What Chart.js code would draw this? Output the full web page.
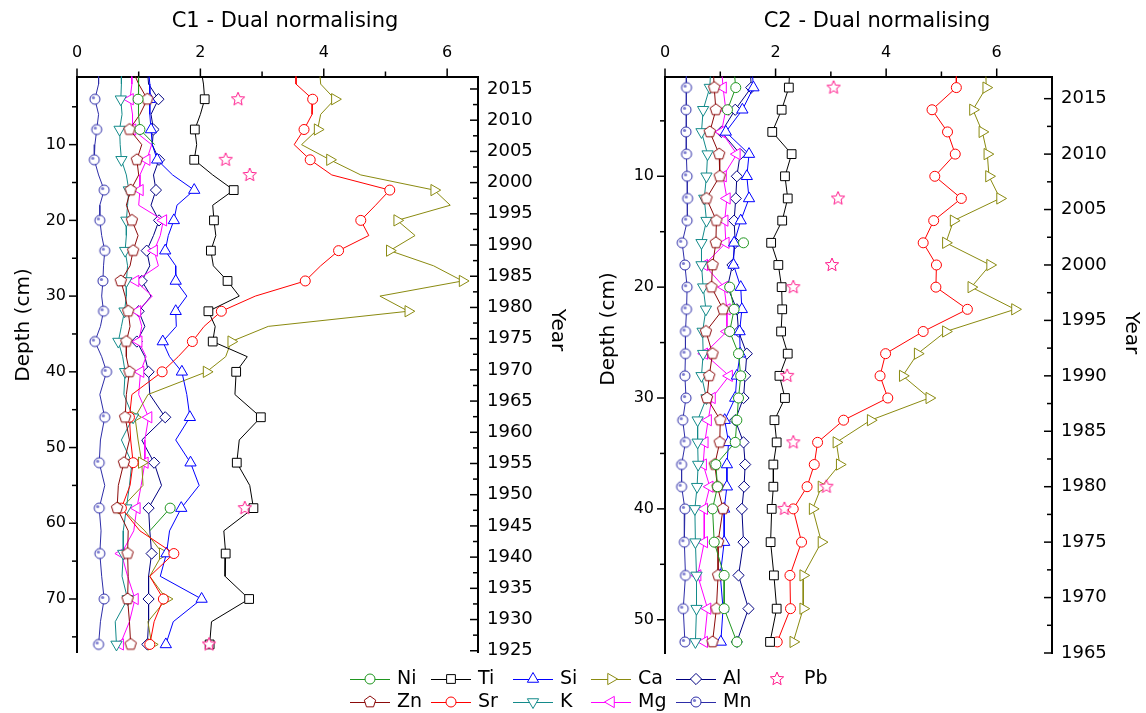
<!DOCTYPE html>
<html>
<head>
<meta charset="utf-8">
<title>C1 / C2 - Dual normalising</title>
<script src="https://cdn.jsdelivr.net/npm/chart.js@4.4.0/dist/chart.umd.min.js"></script>
<style>
  html, body { margin: 0; padding: 0; background: #ffffff; }
  #page { position: relative; width: 1146px; height: 713px; overflow: hidden; }
  #page canvas { position: absolute; left: 0; top: 0; }
</style>
</head>
<body>
<div id="page">
  <canvas id="core1" width="1146" height="713"></canvas>
  <canvas id="core2" width="1146" height="713"></canvas>
</div>
<script>
// values (x = normalised value, depth in cm)
const valueTicks = [0, 2, 4, 6];

// C1: samples every 2 cm to 40 cm, then every 3 cm; symbols on every other sample
const c1Depth = [0, 2, 4, 6, 8, 10, 12, 14, 16, 18, 20, 22, 24, 26, 28, 30, 32, 34, 36, 38, 40,
                 43, 46, 49, 52, 55, 58, 61, 64, 67, 70, 73, 76];
const c1Ni = [1.0, 1.0, 0.99, 1.0, 1.02, 1.26, null, null, null, null, null, null, null, null, null, null,
              null, null, null, null, null, null, null, null, null, null, 1.51, 1.18, null, null, null, null, null];
const c1Zn = [0.89, 1.0, 1.14, 1.02, 0.85, 1.05, 0.97, 1.0, 0.87, 0.8, 0.89, 0.99, 0.91, 0.86, 0.71, 0.78, 0.83,
              0.86, 0.8, 0.8, 0.85, 0.8, 0.78, 0.85, 0.76, 0.67, 0.65, 0.83, 0.82, 0.83, 0.82, 0.85, 0.87];
const c1Ti = [2.01, 2.05, 2.07, 2.0, 1.91, 1.94, 1.9, 2.2, 2.54, 2.2, 2.22, 2.25, 2.17, 2.21, 2.44, 2.63, 2.13,
              2.24, 2.2, 2.76, 2.58, 2.56, 2.98, 2.63, 2.59, 2.8, 2.86, 2.38, 2.41, 2.4, 2.79, 2.18, 2.15];
const c1Sr = [3.55, 3.55, 3.82, 3.81, 3.68, 3.52, 3.78, 4.13, 5.07, 4.84, 4.6, 4.73, 4.24, 3.95, 3.7, 2.89, 2.34,
              2.06, 1.87, 1.64, 1.38, 0.89, 0.85, 0.87, 0.91, 0.86, 0.72, 1.02, 1.57, 1.18, 1.4, 1.25, 1.18];
const c1Si = [1.16, 1.18, 1.18, 1.18, 1.2, 1.22, 1.3, 1.55, 1.9, 1.62, 1.57, 1.48, 1.43, 1.6, 1.6, 1.78, 1.6,
              1.61, 1.39, 1.5, 1.7, 1.78, 1.83, 1.6, 1.84, 1.98, 1.69, 1.5, 1.45, 1.35, 2.02, 1.56, 1.44];
const c1K  = [0.72, 0.72, 0.71, 0.73, 0.69, 0.7, 0.72, 0.8, 0.84, 0.82, 0.8, 0.8, 0.78, 0.82, 0.8, 0.8, 0.77,
              0.72, 0.67, 0.74, 0.78, 0.76, 0.91, 0.72, 0.89, 0.85, 0.8, 0.75, 0.75, 0.73, 0.82, 0.62, 0.64];
const c1Ca = [3.93, 3.95, 4.18, 3.95, 3.9, 3.64, 4.1, 4.6, 5.79, 6.05, 5.19, 5.48, 5.07, 5.78, 6.25, 4.91, 5.37,
              3.1, 2.5, 2.41, 2.1, 1.15, 0.94, 0.99, 1.05, 1.07, 0.72, 1.1, 1.39, 1.18, 1.45, 1.15, 1.21];
const c1Mg = [0.88, 0.89, 0.86, 0.9, 0.9, 1.21, 1.13, 1.02, 1.02, 1.0, 1.4, 1.35, 1.25, 1.32, 0.95, 1.22, 0.98,
              1.05, 1.0, 1.12, 1.03, 1.0, 1.16, 1.1, 1.1, 1.04, 0.97, 0.92, 0.72, 0.82, 0.94, 0.85, 0.7];
const c1Al = [1.14, 1.16, 1.32, 1.2, 1.24, 1.22, 1.33, 1.24, 1.28, 1.2, 1.33, 1.24, 1.13, 1.18, 1.05, 1.2, 1.0,
              1.1, 0.97, 1.1, 1.16, 1.18, 1.43, 1.05, 1.25, 1.37, 1.16, 1.18, 1.21, 1.16, 1.16, 1.16, 1.14];
const c1Mn = [0.35, 0.35, 0.29, 0.35, 0.32, 0.29, 0.28, 0.35, 0.44, 0.37, 0.37, 0.4, 0.45, 0.43, 0.42, 0.4, 0.43,
              0.38, 0.29, 0.4, 0.48, 0.37, 0.45, 0.38, 0.36, 0.45, 0.36, 0.39, 0.37, 0.4, 0.44, 0.38, 0.35];
const c1PbDepth = [4, 12, 14, 58, 76];
const c1Pb = [2.61, 2.41, 2.8, 2.72, 2.14];
const c1DepthTicks = [10, 20, 30, 40, 50, 60, 70];
const c1YearTicks = [1925, 1930, 1935, 1940, 1945, 1950, 1955, 1960, 1965, 1970,
                     1975, 1980, 1985, 1990, 1995, 2000, 2005, 2010, 2015];

// C2: samples every 2 cm to 40 cm, then every 3 cm; symbol on every sample
const c2Depth = [0, 2, 4, 6, 8, 10, 12, 14, 16, 18, 20, 22, 24, 26, 28, 30, 32, 34, 36, 38, 40, 43, 46, 49, 52];
const c2Ni = [1.24, 1.28, 1.13, null, null, null, null, null, 1.42, null, 1.17, 1.25, 1.17, 1.33, 1.37, 1.33,
              1.3, 1.27, 0.92, 0.95, 0.86, 0.89, 1.07, 1.07, 1.3];
const c2Zn = [0.87, 0.89, 0.92, 0.81, 0.98, 0.99, 0.75, 0.93, 0.92, 0.86, 0.84, 1.05, 0.74, 0.86, 0.8, 0.76,
              1.0, 0.99, 0.9, 0.95, 1.05, 0.96, 0.96, 0.93, 0.86];
const c2Ti = [2.26, 2.24, 2.11, 1.94, 2.29, 2.17, 2.22, 2.12, 1.92, 2.05, 2.11, 2.12, 2.1, 2.22, 2.07, 2.17,
              1.98, 2.02, 1.96, 1.96, 1.93, 1.91, 1.97, 2.02, 1.9];
const c2Sr = [5.27, 5.27, 4.83, 5.11, 5.25, 4.88, 5.36, 4.86, 4.67, 4.91, 4.9, 5.47, 4.67, 3.99, 3.89, 4.03,
              3.23, 2.76, 2.7, 2.57, 2.32, 2.47, 2.26, 2.27, 2.03];
const c2Si = [1.57, 1.6, 1.4, 1.1, 1.52, 1.48, 1.52, 1.37, 1.25, 1.24, 1.37, 1.39, 1.35, 1.36, 1.3, 1.27,
              1.08, 1.15, 1.12, 1.12, 1.07, 1.07, 1.0, 1.05, 1.01];
const c2K  = [0.83, 0.81, 0.69, 0.66, 0.77, 0.75, 0.71, 0.75, 0.66, 0.66, 0.69, 0.74, 0.68, 0.69, 0.66, 0.75,
              0.59, 0.59, 0.6, 0.58, 0.54, 0.55, 0.57, 0.57, 0.55];
const c2Ca = [5.8, 5.81, 5.57, 5.74, 5.83, 5.86, 6.06, 5.22, 5.08, 5.88, 5.54, 6.33, 5.08, 4.57, 4.3, 4.78,
              3.72, 3.1, 3.16, 2.83, 2.67, 2.83, 2.5, 2.5, 2.32];
const c2Mg = [1.02, 1.05, 1.1, 1.02, 1.3, 1.05, 1.12, 1.08, 1.1, 0.71, 1.07, 1.12, 1.12, 0.71, 1.16, 0.85,
              0.78, 0.72, 0.69, 0.81, 0.71, 0.71, 0.59, 0.77, 0.71];
const c2Al = [1.54, 1.56, 1.27, 1.02, 1.36, 1.3, 1.28, 1.25, 1.27, 1.22, 1.13, 1.3, 1.33, 1.48, 1.45, 1.42,
              1.27, 1.42, 1.45, 1.43, 1.39, 1.42, 1.33, 1.51, 1.3];
const c2Mn = [0.39, 0.39, 0.38, 0.38, 0.39, 0.4, 0.41, 0.4, 0.31, 0.36, 0.4, 0.39, 0.37, 0.37, 0.36, 0.38,
              0.32, 0.37, 0.3, 0.3, 0.36, 0.35, 0.37, 0.33, 0.36];
const c2PbDepth = [2, 12, 18, 20, 28, 34, 38, 40];
const c2Pb = [3.05, 3.13, 3.02, 2.32, 2.21, 2.32, 2.92, 2.16];
const c2DepthTicks = [10, 20, 30, 40, 50];
const c2YearTicks = [1965, 1970, 1975, 1980, 1985, 1990, 1995, 2000, 2005, 2010, 2015];

// ---- styling ----
Chart.defaults.font.family = "'DejaVu Sans', sans-serif";
Chart.defaults.color = '#000';

const styles = {
  Ni: { color: '#1f961f', shape: 'circle', r: 5 },
  Zn: { color: '#8b0a0a', shape: 'pentagon', r: 6 },
  Ti: { color: '#000000', shape: 'rect', r: 6.2 },
  Sr: { color: '#ff0000', shape: 'circle', r: 5 },
  Si: { color: '#0000ff', shape: 'triangle', r: 6.5, rot: 0 },
  K:  { color: '#138a8a', shape: 'triangle', r: 6.5, rot: 180 },
  Ca: { color: '#8a8a10', shape: 'triangle', r: 6.5, rot: 90 },
  Mg: { color: '#ff00ff', shape: 'triangle', r: 6.5, rot: 270 },
  Al: { color: '#000080', shape: 'rectRot', r: 5.6 },
  Mn: { color: '#2d2da8', shape: 'dotcircle', r: 5 },
  Pb: { color: '#ff1a8c', shape: 'star', r: 7 }
};

// hand drawn symbols Chart.js does not have
function markerCanvas(shape, color, r) {
  const size = Math.ceil(r * 2 + 4);
  const cv = document.createElement('canvas');
  cv.width = size; cv.height = size;
  const g = cv.getContext('2d');
  const c = size / 2;
  g.lineWidth = 1; g.strokeStyle = color; g.fillStyle = '#fff';
  g.beginPath();
  if (shape === 'pentagon') {
    for (let k = 0; k < 5; k++) {
      const a = -Math.PI / 2 + k * 2 * Math.PI / 5;
      g.lineTo(c + r * Math.cos(a), c + r * Math.sin(a));
    }
  } else if (shape === 'star') {
    for (let k = 0; k < 10; k++) {
      const a = -Math.PI / 2 + k * Math.PI / 5;
      const rr = k % 2 ? r * 0.45 : r;
      g.lineTo(c + rr * Math.cos(a), c + rr * Math.sin(a));
    }
  } else {
    g.arc(c, c, r, 0, 2 * Math.PI);
  }
  g.closePath(); g.fill(); g.stroke();
  if (shape === 'dotcircle') {
    g.beginPath(); g.fillStyle = '#7d7dd0';
    g.arc(c - 1.5, c - 1.5, 1.6, 0, 2 * Math.PI); g.fill();
  }
  return cv;
}

const pointStyles = {};
Object.keys(styles).forEach(k => {
  const st = styles[k];
  pointStyles[k] = ['pentagon', 'star', 'dotcircle'].includes(st.shape)
    ? markerCanvas(st.shape, st.color, st.r) : st.shape;
});

function makeSet(name, depths, values, marked) {
  const st = styles[name];
  return {
    label: name,
    xAxisID: 'x', yAxisID: 'y',
    data: depths.map((d, i) => ({ x: values[i], y: d })),
    borderColor: st.color,
    borderWidth: 1,
    tension: 0,
    spanGaps: false,
    showLine: name !== 'Pb',
    pointStyle: pointStyles[name],
    pointRotation: st.rot || 0,
    pointRadius: ctx => marked(ctx.dataIndex) ? st.r : 0,
    pointBorderColor: st.color,
    pointBackgroundColor: '#ffffff',
    pointBorderWidth: 1
  };
}

function buildSets(depths, table, marked, pbDepth, pb) {
  const sets = [makeSet('Pb', pbDepth, pb, () => true)];
  ['Ni', 'Zn', 'Ti', 'Sr', 'Si', 'K', 'Ca', 'Mg', 'Al', 'Mn'].forEach(n => {
    sets.push(makeSet(n, depths, table[n], marked));
  });
  return sets;
}

function minorsOf(majors, min, max) {
  const step = majors[1] - majors[0];
  const out = [];
  for (let v = majors[0] - step / 2; v <= majors[majors.length - 1] + step / 2 + 1e-9; v += step) {
    if (v > min + 1e-9 && v < max - 1e-9) out.push(v);
  }
  return out;
}

// tick marks: out on top/left, in on the right (year) axis
function tickPlugin(spec) {
  return {
    id: 'tickMarks',
    afterDraw(chart) {
      const ctx = chart.ctx, area = chart.chartArea;
      ctx.save();
      ctx.strokeStyle = '#000';
      ctx.lineWidth = 1.5;
      spec.forEach(ax => {
        const s = chart.scales[ax.id];
        const mark = (v, len) => {
          const p = s.getPixelForValue(v);
          ctx.beginPath();
          if (ax.side === 'top') { ctx.moveTo(p, area.top); ctx.lineTo(p, area.top - len); }
          else if (ax.side === 'left') { ctx.moveTo(area.left, p); ctx.lineTo(area.left - len, p); }
          else { ctx.moveTo(area.right, p); ctx.lineTo(area.right - len, p); }
          ctx.stroke();
        };
        ax.major.forEach(v => mark(v, 8));
        minorsOf(ax.major, s.min, s.max).forEach(v => mark(v, 5));
      });
      ctx.restore();
    }
  };
}

function textPlugin(items) {
  return {
    id: 'panelText',
    afterDraw(chart) {
      const ctx = chart.ctx;
      ctx.save();
      ctx.fillStyle = '#000';
      ctx.textAlign = 'center';
      ctx.textBaseline = 'middle';
      items.forEach(t => {
        ctx.save();
        ctx.translate(t.x, t.y);
        ctx.rotate((t.rot || 0) * Math.PI / 180);
        ctx.font = t.size + "px 'DejaVu Sans'";
        ctx.fillText(t.text, 0, 0);
        ctx.restore();
      });
      ctx.restore();
    }
  };
}

const legendRows = [['Ni', 'Ti', 'Si', 'Ca', 'Al', 'Pb'], ['Zn', 'Sr', 'K', 'Mg', 'Mn']];
const legendPlugin = {
  id: 'elementLegend',
  afterDraw(chart) {
    const ctx = chart.ctx;
    const colX = [350, 431, 513, 591, 676, 757];
    const rowY = [679, 702];
    ctx.save();
    legendRows.forEach((row, r) => {
      row.forEach((name, c) => {
        const st = styles[name];
        const x0 = colX[c], y = rowY[r];
        if (name !== 'Pb') {
          ctx.strokeStyle = st.color; ctx.lineWidth = 1;
          ctx.beginPath(); ctx.moveTo(x0, y + 0.5); ctx.lineTo(x0 + 40, y + 0.5); ctx.stroke();
        }
        ctx.fillStyle = '#fff'; ctx.strokeStyle = st.color; ctx.lineWidth = 1;
        Chart.helpers.drawPoint(ctx, {
          pointStyle: pointStyles[name], rotation: st.rot || 0, radius: st.r, borderWidth: 1
        }, x0 + 20, y);
        ctx.fillStyle = '#000';
        ctx.font = "19px 'DejaVu Sans'";
        ctx.textAlign = 'left'; ctx.textBaseline = 'middle';
        ctx.fillText(name, x0 + 47, y);
      });
    });
    ctx.restore();
  }
};

function panelOptions(p) {
  const frame = { display: true, color: '#000', width: 2 };
  const noGrid = { display: true, drawOnChartArea: false, drawTicks: false };
  return {
    responsive: false,
    animation: false,
    events: [],
    layout: { padding: p.padding },
    plugins: { legend: { display: false }, tooltip: { enabled: false } },
    scales: {
      x: {
        type: 'linear', position: 'top', min: 0, max: p.xMax,
        grid: noGrid, border: frame,
        afterBuildTicks: s => { s.ticks = valueTicks.map(v => ({ value: v })); },
        afterFit: s => { s.height = 76.5; },
        ticks: { font: { size: 16 }, padding: 14, autoSkip: false, maxRotation: 0 }
      },
      y: {
        type: 'linear', position: 'left', reverse: true, min: p.depthMin, max: p.depthMax,
        grid: noGrid, border: frame,
        afterBuildTicks: s => { s.ticks = p.depthTicks.map(v => ({ value: v })); },
        afterFit: s => { s.width = 77; },
        ticks: { font: { size: 16 }, padding: 11, autoSkip: false }
      },
      year: {
        type: 'linear', position: 'right', min: p.yearMin, max: p.yearMax,
        grid: noGrid, border: frame,
        afterBuildTicks: s => { s.ticks = p.yearTicks.map(v => ({ value: v })); },
        afterFit: s => { s.width = 90; },
        ticks: { font: { size: 18 }, padding: 9, autoSkip: false, callback: v => String(v) }
      }
    }
  };
}

const c1Table = { Ni: c1Ni, Zn: c1Zn, Ti: c1Ti, Sr: c1Sr, Si: c1Si, K: c1K, Ca: c1Ca, Mg: c1Mg, Al: c1Al, Mn: c1Mn };
const c2Table = { Ni: c2Ni, Zn: c2Zn, Ti: c2Ti, Sr: c2Sr, Si: c2Si, K: c2K, Ca: c2Ca, Mg: c2Mg, Al: c2Al, Mn: c2Mn };

new Chart(document.getElementById('core1'), {
  type: 'line',
  data: { datasets: buildSets(c1Depth, c1Table, i => i > 0 && i % 2 === 0, c1PbDepth, c1Pb) },
  options: panelOptions({
    padding: { left: 0, top: 0, right: 578, bottom: 61 },
    xMax: 6.5, depthMin: 1, depthMax: 77, yearMin: 1924.8, yearMax: 2017,
    depthTicks: c1DepthTicks, yearTicks: c1YearTicks
  }),
  plugins: [
    tickPlugin([
      { id: 'x', side: 'top', major: valueTicks },
      { id: 'y', side: 'left', major: c1DepthTicks },
      { id: 'year', side: 'right', major: c1YearTicks }
    ]),
    textPlugin([
      { text: 'C1 - Dual normalising', x: 285, y: 22, size: 21 },
      { text: 'Depth (cm)', x: 24, y: 325, size: 20, rot: -90 },
      { text: 'Year', x: 557, y: 330, size: 20, rot: 90 }
    ])
  ]
});

new Chart(document.getElementById('core2'), {
  type: 'line',
  data: { datasets: buildSets(c2Depth, c2Table, i => i > 0, c2PbDepth, c2Pb) },
  options: panelOptions({
    padding: { left: 588, top: 0, right: 4, bottom: 60 },
    xMax: 7, depthMin: 1, depthMax: 53, yearMin: 1965, yearMax: 2017,
    depthTicks: c2DepthTicks, yearTicks: c2YearTicks
  }),
  plugins: [
    tickPlugin([
      { id: 'x', side: 'top', major: valueTicks },
      { id: 'y', side: 'left', major: c2DepthTicks },
      { id: 'year', side: 'right', major: c2YearTicks }
    ]),
    textPlugin([
      { text: 'C2 - Dual normalising', x: 877, y: 22, size: 21 },
      { text: 'Depth (cm)', x: 609, y: 329, size: 20, rot: -90 },
      { text: 'Year', x: 1131, y: 333, size: 20, rot: 90 }
    ]),
    legendPlugin
  ]
});
</script>
</body>
</html>
